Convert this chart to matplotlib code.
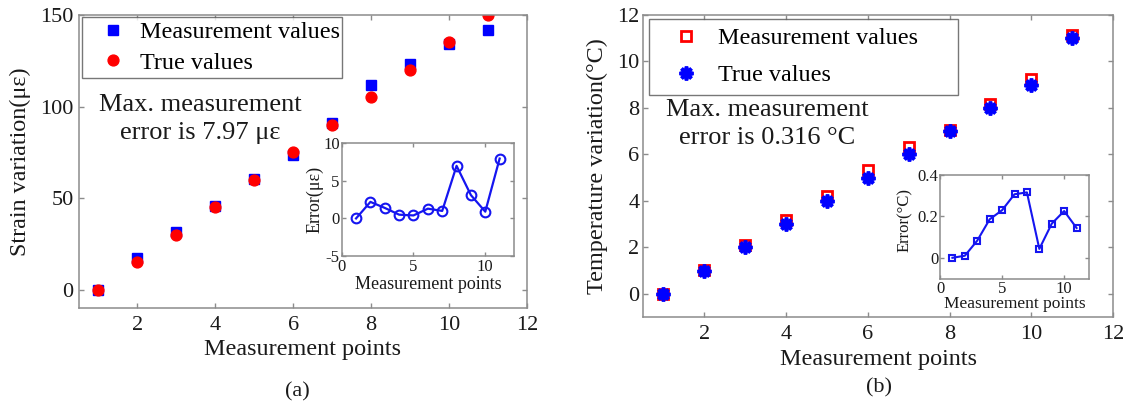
import matplotlib
matplotlib.use("Agg")
import matplotlib.pyplot as plt

# ---------------- data ----------------
points = [1, 2, 3, 4, 5, 6, 7, 8, 9, 10, 11]

strain_true = [0, 15, 30, 45, 60, 75, 90, 105, 120, 135, 150]
strain_meas = [0, 17.2, 31.4, 45.5, 60.4, 73.7, 91.0, 112.0, 123.1, 134.1, 142.03]
strain_err = [0, 2.2, 1.4, 0.5, 0.4, 1.3, 1.0, 7.0, 3.1, 0.9, 7.97]

temp_true = [0, 1, 2, 3, 4, 5, 6, 7, 8, 9, 11]
temp_meas = [0, 1.01, 2.08, 3.19, 4.23, 5.31, 6.316, 7.04, 8.17, 9.23, 11.14]
temp_err = [0, 0.01, 0.083, 0.186, 0.23, 0.307, 0.316, 0.043, 0.165, 0.226, 0.144]

main_xticks = [2, 4, 6, 8, 10, 12]
strain_yticks = [0, 50, 100, 150]
temp_yticks = [0, 2, 4, 6, 8, 10, 12]
inset_xticks = [0, 5, 10]
strain_err_yticks = [-5, 0, 5, 10]
temp_err_yticks = [0, 0.2, 0.4]
temp_err_yticklabels = ["0", "0.2", "0.4"]

legend_labels = ["Measurement values", "True values"]

# ---------------- style ----------------
plt.rcParams["font.family"] = ["Liberation Serif", "DejaVu Serif"]
plt.rcParams["axes.unicode_minus"] = False

W, H = 1131, 408
fig = plt.figure(figsize=(W / 100, H / 100), dpi=100)

FRAME = "#8c8c8c"
TXT = "#1a1a1a"


def px_axes(x0, y0, x1, y1):
    return fig.add_axes([x0 / W, (H - y1) / H, (x1 - x0) / W, (y1 - y0) / H])


def style(ax, fs, pad_x, pad_y, length=3.5):
    for s in ax.spines.values():
        s.set_color(FRAME)
        s.set_linewidth(1.1)
    ax.tick_params(direction="in", top=True, right=True, color=FRAME,
                   length=length, width=1.0, labelsize=fs, labelcolor=TXT)
    ax.tick_params(axis="x", pad=pad_x)
    ax.tick_params(axis="y", pad=pad_y)


BLUE = "#0000ff"
RED = "#ff0000"
LFS = 17.4

# ================= panel (a) =================
ax1 = px_axes(79, 15, 527, 308)
ax1.plot(points, strain_meas, linestyle="none", marker="s", ms=6.7,
         color=BLUE, label=legend_labels[0])
ax1.plot(points, strain_true, linestyle="none", marker="o", ms=7.8,
         color=RED, label=legend_labels[1])
ax1.set_xlim(0.5, 12)
ax1.set_ylim(-10, 150)
ax1.set_xticks(main_xticks)
ax1.set_yticks(strain_yticks)
style(ax1, 16, 6, 4)
ax1.set_xlabel("Measurement points", fontsize=LFS, color=TXT)
ax1.set_ylabel("Strain variation(με)", fontsize=LFS, color=TXT)
ax1.xaxis.set_label_coords(0.5, -0.105)
ax1.yaxis.set_label_coords(-0.107, 0.5)
leg1 = ax1.legend(loc="upper left", bbox_to_anchor=(0.0067, 0.993, 0.58, 0),
                  mode="expand", fontsize=LFS, frameon=True, fancybox=False,
                  borderpad=0.175, labelspacing=0.35, handlelength=2.19,
                  handletextpad=0.03, borderaxespad=0)
leg1.get_frame().set_edgecolor("#555555")
leg1.get_frame().set_linewidth(1.0)

fig.text(200 / W, (H - 119) / H, "Max. measurement\nerror is 7.97 με",
         ha="center", va="center", fontsize=19, color=TXT, linespacing=1.32)

ins1 = px_axes(341.7, 143.3, 514, 256)
ins1.plot(points, strain_err, "-o", color="#1515f0", lw=1.6, ms=7,
          mfc="none", mew=1.5)
ins1.set_xlim(0, 12)
ins1.set_ylim(-5, 10)
ins1.set_xticks(inset_xticks)
ins1.set_yticks(strain_err_yticks)
style(ins1, 12, 2, 1.5, length=3)
ins1.set_xlabel("Measurement points", fontsize=13, color=TXT)
ins1.set_ylabel("Error(με)", fontsize=13, color=TXT)
ins1.xaxis.set_label_coords(0.5, -0.18)
ins1.yaxis.set_label_coords(-0.105, 0.5)

fig.text(297 / W, (H - 392) / H, "(a)", ha="center", va="center",
         fontsize=16, color=TXT)

# ================= panel (b) =================
ax2 = px_axes(643, 15, 1113, 317)
ax2.plot(points, temp_meas, linestyle="none", marker="s", ms=7.5,
         mfc="white", mec=RED, mew=2.0, label=legend_labels[0])
ax2.plot(points, temp_true, linestyle="none", marker=(8, 2, 0), ms=10,
         color=BLUE, mec=BLUE, mew=2.6, label=legend_labels[1])
ax2.set_xlim(0.5, 12)
ax2.set_ylim(-1, 12)
ax2.set_xticks(main_xticks)
ax2.set_yticks(temp_yticks)
style(ax2, 16, 6, 2.5)
ax2.set_xlabel("Measurement points", fontsize=LFS, color=TXT)
ax2.set_ylabel("Temperature variation(°C)", fontsize=LFS, color=TXT)
ax2.xaxis.set_label_coords(0.5, -0.106)
ax2.yaxis.set_label_coords(-0.0745, 0.5)
leg2 = ax2.legend(loc="upper left", bbox_to_anchor=(0.0128, 0.987, 0.657, 0),
                  mode="expand", fontsize=LFS, frameon=True, fancybox=False,
                  borderpad=0.35, labelspacing=0.63, handlelength=2.36,
                  handletextpad=0.15, borderaxespad=0)
leg2.get_frame().set_edgecolor("#555555")
leg2.get_frame().set_linewidth(1.0)

fig.text(767 / W, (H - 124) / H, "Max. measurement\nerror is 0.316 °C",
         ha="center", va="center", fontsize=19, color=TXT, linespacing=1.32)

ins2 = px_axes(940, 175, 1089, 278.5)
ins2.plot(points, temp_err, "-s", color="#1515f0", lw=1.5, ms=4.8,
          mfc="none", mew=1.5)
ins2.set_xlim(0, 12)
ins2.set_ylim(-0.1, 0.4)
ins2.set_xticks(inset_xticks)
ins2.set_yticks(temp_err_yticks)
ins2.set_yticklabels(temp_err_yticklabels)
style(ins2, 12, 2, 1, length=3)
ins2.set_xlabel("Measurement points", fontsize=12.5, color=TXT)
ins2.set_ylabel("Error(°C)", fontsize=12, color=TXT)
ins2.xaxis.set_label_coords(0.5, -0.17)
ins2.yaxis.set_label_coords(-0.18, 0.565)

fig.text(879 / W, (H - 388) / H, "(b)", ha="center", va="center",
         fontsize=16, color=TXT)

fig.savefig("out.png", dpi=100)
